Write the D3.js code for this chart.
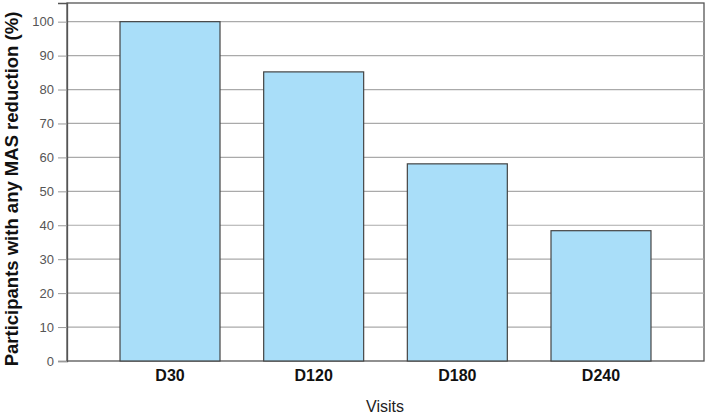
<!DOCTYPE html>
<html>
<head>
<meta charset="utf-8">
<script src="https://cdn.jsdelivr.net/npm/d3@7/dist/d3.min.js"></script>
<style>
  body { margin: 0; background: #fff; }
  text { font-family: Arial, "Liberation Sans", sans-serif; }
</style>
</head>
<body>
<svg id="chart" width="708" height="416"></svg>
<script>
var visits = ["D30", "D120", "D180", "D240"];
var pctReduction = [100, 85.2, 58.1, 38.4];
var yTicks = [0, 10, 20, 30, 40, 50, 60, 70, 80, 90, 100];

var svg = d3.select("#chart");
// plot area edges (note: "top" is reserved by window, so use other names)
var plotL = 67, plotR = 704, plotT = 3, plotB = 361;

var x = d3.scaleBand()
    .domain(visits)
    .range([plotL, plotR])
    .paddingInner(0.304)
    .paddingOuter(0.369);

var y = d3.scaleLinear()
    .domain([0, 105.5])
    .range([plotB, plotT]);

// frame
svg.append("rect")
    .attr("x", plotL).attr("y", plotT)
    .attr("width", plotR - plotL).attr("height", plotB - plotT)
    .attr("fill", "#fff")
    .attr("stroke", "#555").attr("stroke-width", 1.3);

// gridlines
svg.append("g").selectAll("line")
    .data(yTicks.filter(function(d) { return d > 0; }))
    .join("line")
    .attr("x1", plotL).attr("x2", plotR)
    .attr("y1", function(d) { return y(d); })
    .attr("y2", function(d) { return y(d); })
    .attr("stroke", "#aaa").attr("stroke-width", 1.2);

// bars
svg.append("g").selectAll("rect")
    .data(visits)
    .join("rect")
    .attr("x", function(d) { return x(d); })
    .attr("width", x.bandwidth())
    .attr("y", function(d, i) { return y(pctReduction[i]); })
    .attr("height", function(d, i) { return y(0) - y(pctReduction[i]); })
    .attr("fill", "#a9def9")
    .attr("stroke", "#444").attr("stroke-width", 1.2);

// y axis
var yAxis = svg.append("g")
    .attr("transform", "translate(" + plotL + ",0)")
    .call(d3.axisLeft(y).tickValues(yTicks).tickSize(9).tickPadding(4));
yAxis.select(".domain").attr("stroke", "#555").attr("stroke-width", 1.3);
yAxis.selectAll(".tick line").attr("stroke", "#999");
yAxis.selectAll(".tick text")
    .attr("fill", "#555").attr("font-size", "13px")
    .style("font-family", "Arial, 'Liberation Sans', sans-serif");

// x axis labels
var xAxis = svg.append("g")
    .attr("transform", "translate(0," + plotB + ")")
    .call(d3.axisBottom(x).tickSize(0).tickPadding(9));
xAxis.select(".domain").remove();
xAxis.selectAll(".tick text")
    .attr("fill", "#111").attr("font-size", "16px").attr("font-weight", "bold")
    .style("font-family", "Arial, 'Liberation Sans', sans-serif");

// titles
svg.append("text")
    .attr("x", 385).attr("y", 412)
    .attr("text-anchor", "middle")
    .attr("font-size", "16px").attr("fill", "#222")
    .text("Visits");

svg.append("text")
    .attr("transform", "translate(18,189) rotate(-90)")
    .attr("text-anchor", "middle")
    .attr("font-size", "18.5px").attr("font-weight", "bold").attr("fill", "#111")
    .text("Participants with any MAS reduction (%)");
</script>
</body>
</html>
